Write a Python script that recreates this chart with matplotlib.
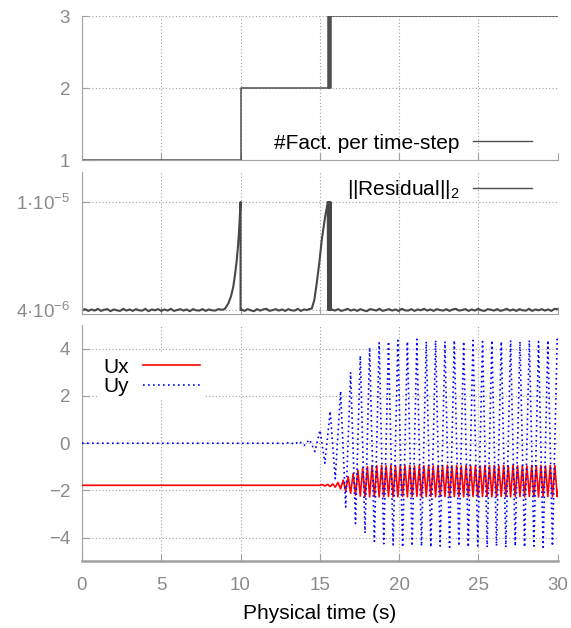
import numpy as np
import matplotlib
matplotlib.use('Agg')
import matplotlib.pyplot as plt
from matplotlib.ticker import NullLocator
from matplotlib.lines import Line2D

plt.rcParams['font.family'] = ['Liberation Sans', 'DejaVu Sans']

# ---- data ----
# number of factorisations per time step
fact_t = [0, 10, 15.5, 15.55, 15.6, 15.65, 15.7, 30]
fact_n = [1, 2, 3, 2, 3, 2, 3, 3]

# residual (units of 1e-6), noisy baseline segments + two spikes
res_base_a = [4.00, 4.03, 3.97, 4.02, 3.98, 4.04, 3.97, 4.01, 4.03, 3.96, 4.02, 3.99,
              3.97, 4.04, 3.98, 4.02, 3.97, 4.03, 3.99, 3.98, 4.04, 3.96, 4.02, 3.99,
              4.03, 3.97, 4.02, 3.98, 4.04, 3.97, 4.00, 4.03, 3.98, 4.02, 3.96, 4.03,
              3.99, 3.98, 4.03, 3.97, 4.02, 3.99, 3.98, 4.03, 4.01]
res_spike1_t = [9.0, 9.23, 9.4, 9.54, 9.65, 9.76, 9.85, 9.92, 10.0, 10.0]
res_spike1_v = [4.03, 4.23, 4.5, 4.87, 5.4, 6.11, 7.0, 8.11, 10.0, 4.0]
res_base_b = [4.02, 3.97, 4.03, 3.99, 3.96, 4.03, 3.98, 4.02, 4.04, 3.97, 4.00,
              4.03, 3.98, 4.02, 3.97, 4.03, 3.99, 3.98, 4.04, 3.97, 4.02, 4.00]
res_spike2_t = [14.3, 14.49, 14.65, 14.8, 14.97, 15.12, 15.25, 15.33, 15.42, 15.5,
                15.52, 15.55, 15.58, 15.61, 15.64, 15.67, 15.7]
res_spike2_v = [4.03, 4.05, 4.35, 5.0, 6.0, 7.25, 8.2, 8.8, 9.4, 10.0,
                4.0, 10.0, 4.0, 10.0, 4.0, 10.0, 4.0]
res_base_c = [4.02, 3.98, 4.03, 3.97, 4.00, 4.04, 3.98, 4.02, 3.97, 4.03, 3.99, 3.96,
              4.03, 4.01, 3.98, 4.04, 3.97, 4.00, 4.03, 3.98, 4.02, 3.97, 4.04, 3.99,
              3.98, 4.03, 3.97, 4.02, 3.99, 4.04, 3.98, 4.02, 3.97, 4.03, 4.00, 3.98,
              4.03, 3.97, 4.02, 4.04, 3.98, 4.00, 4.03, 3.97, 4.02, 3.98, 4.04, 3.99,
              3.97, 4.03, 4.01, 3.98, 4.03, 3.97, 4.00, 4.04, 3.98, 4.02, 3.97, 4.03,
              3.99, 3.98, 4.04, 3.97, 4.02, 3.99, 4.03, 3.98, 4.02, 3.97, 4.04, 4.03]

# velocity components
uy_t = [0, 12.5, 12.8, 13.1, 13.4, 13.7, 14.0, 14.35, 14.69, 15.01, 15.32, 15.65,
        15.97, 16.31, 16.63, 16.94, 17.25, 17.55, 17.85, 18.14, 18.44, 18.74, 19.03,
        19.33, 19.62, 19.92, 20.22, 20.52, 20.82, 21.12, 21.41, 21.71, 22.00, 22.30,
        22.59, 22.89, 23.18, 23.48, 23.77, 24.07, 24.36, 24.66, 24.96, 25.26, 25.55,
        25.85, 26.14, 26.44, 26.73, 27.03, 27.32, 27.62, 27.91, 28.21, 28.50, 28.79,
        29.08, 29.38, 29.67, 29.97, 30.0]
uy_v = [0, 0, -0.02, 0.04, -0.05, 0.08, -0.1, 0.15, -0.35, 0.55, -0.85, 1.35,
        -1.5, 2.2, -2.7, 3.0, -3.4, 3.7, -3.8, 4.05, -4.15, 4.25, -4.25,
        4.3, -4.3, 4.35, -4.4, 4.3, -4.35, 4.4, -4.35, 4.3, -4.4, 4.35,
        -4.35, 4.3, -4.4, 4.35, -4.35, 4.3, -4.4, 4.35, -4.35, 4.3, -4.4,
        4.35, -4.35, 4.3, -4.4, 4.35, -4.35, 4.3, -4.4, 4.35, -4.35, 4.3,
        -4.4, 4.35, -4.35, 4.4, 4.3]

ux_t = [0, 15.0, 15.16, 15.32, 15.48, 15.65, 15.81, 15.97, 16.14, 16.31, 16.47, 16.63,
        16.79, 16.94, 17.10, 17.25, 17.40, 17.55, 17.70, 17.85, 18.00, 18.14, 18.29,
        18.44, 18.59, 18.74, 18.89, 19.03, 19.18, 19.33, 19.48, 19.62, 19.77, 19.92,
        20.07, 20.22, 20.37, 20.52, 20.67, 20.82, 20.97, 21.12, 21.27, 21.41, 21.56,
        21.71, 21.86, 22.00, 22.15, 22.30, 22.45, 22.59, 22.74, 22.89, 23.04, 23.18,
        23.33, 23.48, 23.63, 23.77, 23.92, 24.07, 24.22, 24.36, 24.51, 24.66, 24.81,
        24.96, 25.11, 25.26, 25.41, 25.55, 25.70, 25.85, 26.00, 26.14, 26.29, 26.44,
        26.59, 26.73, 26.88, 27.03, 27.18, 27.32, 27.47, 27.62, 27.77, 27.91, 28.06,
        28.21, 28.36, 28.50, 28.65, 28.79, 28.94, 29.08, 29.23, 29.38, 29.53, 29.67,
        29.82, 29.97, 30.0]
ux_v = [-1.78, -1.78,
        -1.75, -1.81, -1.74, -1.83, -1.72, -1.86, -1.66, -1.93, -1.56, -2.02,
        -1.42, -2.12, -1.28, -2.19, -1.14, -2.24, -1.04, -2.26, -0.99, -2.27,
        -0.96, -2.26, -0.95, -2.27,
        -0.94, -2.26, -0.96, -2.25, -0.94, -2.27, -0.95, -2.26, -0.93, -2.25,
        -0.95, -2.27, -0.94, -2.26, -0.96, -2.25, -0.94, -2.27, -0.95, -2.26,
        -0.94, -2.25, -0.96, -2.27, -0.94, -2.26, -0.95, -2.25, -0.93, -2.27,
        -0.95, -2.26, -0.94, -2.25, -0.96, -2.27, -0.94, -2.26, -0.95, -2.25,
        -0.94, -2.27, -0.96, -2.26, -0.94, -2.25, -0.95, -2.27, -0.94, -2.26,
        -0.96, -2.25, -0.94, -2.26, -0.95, -2.27, -0.93, -2.25, -0.95, -2.26,
        -0.94, -2.27, -0.96, -2.25, -0.94, -2.26, -0.95, -2.27, -0.94, -2.25,
        -0.96, -2.26, -0.94, -2.27, -0.95, -2.26,
        -2.0]

res_t = np.concatenate([np.linspace(0, 8.8, len(res_base_a)), res_spike1_t,
                        np.linspace(10.05, 14.2, len(res_base_b)), res_spike2_t,
                        np.linspace(15.75, 30, len(res_base_c))])
res_v = np.concatenate([res_base_a, res_spike1_v, res_base_b, res_spike2_v, res_base_c]) * 1e-6

# ---- figure ----
fig = plt.figure(figsize=(5.71, 6.28), dpi=100)
ax1 = fig.add_axes([0.1436, 0.7452, 0.8331, 0.2293])
ax2 = fig.add_axes([0.1436, 0.5000, 0.8331, 0.2261])
ax3 = fig.add_axes([0.1436, 0.1060, 0.8331, 0.3765])

gray = '#a0a0a0'
for ax in (ax1, ax2, ax3):
    ax.spines['top'].set_visible(False)
    ax.spines['right'].set_visible(False)
    ax.spines['left'].set_color(gray)
    ax.spines['bottom'].set_color(gray)
    ax.tick_params(direction='in', length=5, color=gray, labelcolor='#8a8a8a',
                   labelsize=13.5, pad=8.5)
    ax.grid(True, color=gray, linestyle=(0, (1, 2)), linewidth=0.8)
    ax.set_axisbelow(True)
    ax.set_xlim(0, 30)
    ax.set_xticks(range(0, 31, 5))

leg_kw = dict(markerfirst=False, frameon=False, fontsize=15, handlelength=2.84,
              handletextpad=0.63, borderpad=0, borderaxespad=0)

# panel 1
ax1.plot(fact_t, fact_n, drawstyle='steps-post', color='#505050', lw=1.1)
ax1.set_ylim(1, 3)
ax1.set_yticks([1, 2, 3])
ax1.tick_params(labelbottom=False)
ax1.legend([Line2D([], [], color='#505050', lw=1)], ['#Fact. per time-step'],
           loc='center right', bbox_to_anchor=(0.946, 0.118), **leg_kw)

# panel 2
ax2.plot(res_t, res_v, color='#484848', lw=1.5)
ax2.set_yscale('log')
ax2.set_ylim(3.867e-6, 1.29e-5)
ax2.set_yticks([4e-6, 1e-5])
ax2.set_yticklabels(['4·10$^{\\mathregular{-6}}$', '1·10$^{\\mathregular{-5}}$'])
ax2.yaxis.set_minor_locator(NullLocator())
ax2.tick_params(labelbottom=False)
ax2.legend([Line2D([], [], color='#505050', lw=1)], ['||Residual||$_\\mathregular{2}$'],
           loc='center right', bbox_to_anchor=(0.946, 0.875), **leg_kw)

# panel 3
ax3.plot(ux_t, ux_v, color='#ff0000', lw=1.2, label='Ux', zorder=3)
ax3.plot(uy_t, uy_v, color='#0000ff', lw=1.2, linestyle=(0, (1, 2)), label='Uy', zorder=4)
ax3.set_ylim(-5, 5)
ax3.set_yticks([-4, -2, 0, 2, 4])
ax3.spines['bottom'].set_linewidth(1.8)
ax3.tick_params(axis='x', pad=11.5)
ax3.set_xlabel('Physical time (s)', fontsize=15, labelpad=7)
leg = ax3.legend(loc='upper left', bbox_to_anchor=(0.036, 0.88), markerfirst=False,
                 frameon=True, fontsize=15, handlelength=2.74, handletextpad=0.67,
                 labelspacing=0.02, borderpad=0.2, borderaxespad=0, fancybox=False)
leg.get_frame().set_facecolor('white')
leg.get_frame().set_edgecolor('none')
leg.get_frame().set_alpha(1)
leg.set_zorder(5)

fig.savefig('out.png', dpi=100)
